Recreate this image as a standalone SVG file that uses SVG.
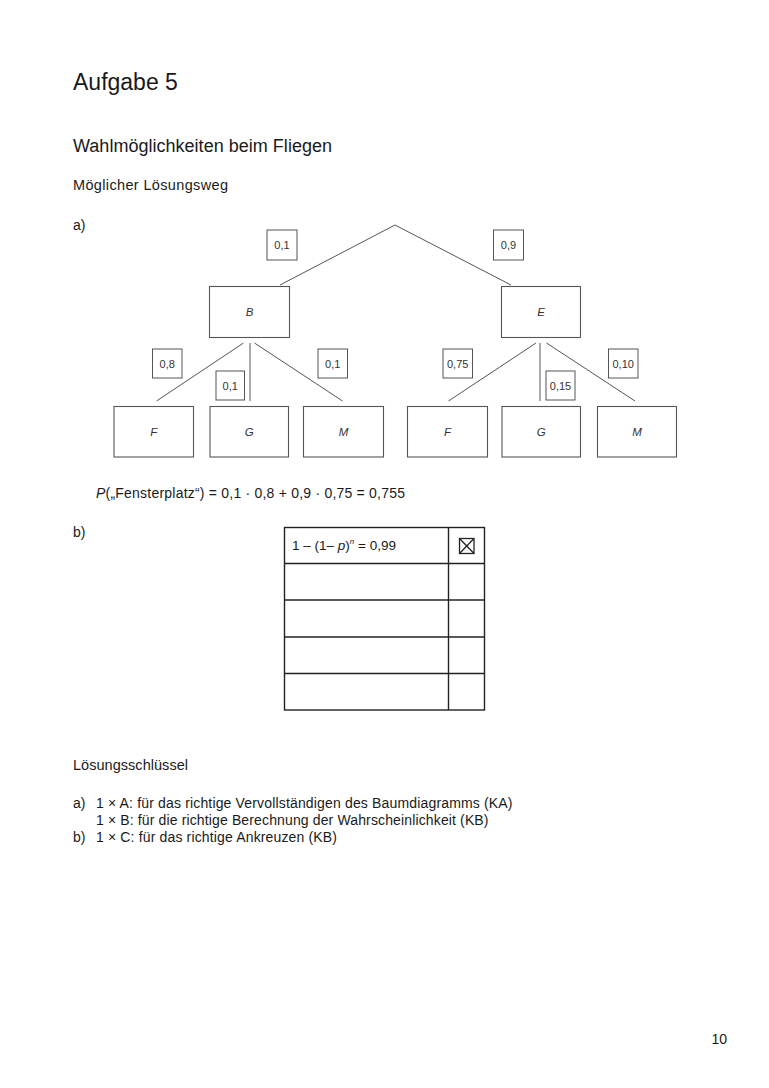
<svg xmlns="http://www.w3.org/2000/svg" width="769" height="1088" viewBox="0 0 769 1088">
<style>
text{font-family:"Liberation Sans",Arial,Helvetica,sans-serif;fill:#1a1a1a}
.t{font-size:14px}
.n{font-size:11.5px;font-style:italic;fill:#333;text-anchor:middle}
.p{font-size:11px;fill:#333;text-anchor:middle}
.box{fill:#fff;stroke:#555;stroke-width:1.1}
.pb{fill:#fff;stroke:#555;stroke-width:1}
.ln{stroke:#555;stroke-width:1;fill:none}
.tb{stroke:#222;stroke-width:1.4;fill:none}
</style>
<rect width="769" height="1088" fill="#fff"/>
<text x="73" y="90" font-size="23">Aufgabe 5</text>
<text x="73" y="152" font-size="18" textLength="259" lengthAdjust="spacing">Wahlmöglichkeiten beim Fliegen</text>
<text x="73" y="190" font-size="14.5" textLength="155" lengthAdjust="spacing">Möglicher Lösungsweg</text>
<text x="73" y="230" class="t">a)</text>

<g id="connectors">
<line class="ln" x1="395" y1="225" x2="280" y2="285"/>
<line class="ln" x1="395" y1="225" x2="511" y2="285"/>
<line class="ln" x1="243.5" y1="343" x2="156.5" y2="401"/>
<line class="ln" x1="250" y1="343" x2="250" y2="401"/>
<line class="ln" x1="254.5" y1="343" x2="342.5" y2="401"/>
<line class="ln" x1="536" y1="343" x2="448.5" y2="401"/>
<line class="ln" x1="540" y1="343" x2="540" y2="401"/>
<line class="ln" x1="546.5" y1="343" x2="635" y2="401"/>
</g>

<g id="prob-0-1"><rect class="pb" x="267" y="230" width="30" height="30"/><text class="p" x="282" y="249">0,1</text></g>
<g id="prob-0-9"><rect class="pb" x="493.5" y="230" width="30" height="30"/><text class="p" x="508.5" y="249">0,9</text></g>

<g id="node-B"><rect class="box" x="209.5" y="286.5" width="80" height="51"/><text class="n" x="249.5" y="316">B</text></g>
<g id="node-E"><rect class="box" x="501.5" y="286.5" width="79" height="51"/><text class="n" x="541" y="316">E</text></g>

<g id="prob-BF"><rect class="pb" x="152.5" y="349" width="29.5" height="29"/><text class="p" x="167.2" y="367.5">0,8</text></g>
<g id="prob-BG"><rect class="pb" x="216" y="371" width="28.5" height="29"/><text class="p" x="230.2" y="389.5">0,1</text></g>
<g id="prob-BM"><rect class="pb" x="318" y="349" width="29.5" height="29"/><text class="p" x="332.7" y="367.5">0,1</text></g>
<g id="prob-EF"><rect class="pb" x="443" y="349" width="29.5" height="29"/><text class="p" x="457.7" y="367.5">0,75</text></g>
<g id="prob-EG"><rect class="pb" x="546" y="371" width="29" height="29"/><text class="p" x="560.5" y="389.5">0,15</text></g>
<g id="prob-EM"><rect class="pb" x="608.5" y="349" width="29.5" height="29"/><text class="p" x="623.2" y="367.5">0,10</text></g>

<g id="node-BF"><rect class="box" x="114" y="406.5" width="79.5" height="50.5"/><text class="n" x="153.7" y="436">F</text></g>
<g id="node-BG"><rect class="box" x="210" y="406.5" width="78.5" height="50.5"/><text class="n" x="249.2" y="436">G</text></g>
<g id="node-BM"><rect class="box" x="303.5" y="406.5" width="80" height="50.5"/><text class="n" x="343.5" y="436">M</text></g>
<g id="node-EF"><rect class="box" x="407.5" y="406.5" width="80" height="50.5"/><text class="n" x="447.5" y="436">F</text></g>
<g id="node-EG"><rect class="box" x="502" y="406.5" width="78.5" height="50.5"/><text class="n" x="541.2" y="436">G</text></g>
<g id="node-EM"><rect class="box" x="597.5" y="406.5" width="79" height="50.5"/><text class="n" x="637" y="436">M</text></g>

<text x="96" y="498" class="t" textLength="309" lengthAdjust="spacing"><tspan font-style="italic">P</tspan>(„Fensterplatz“) = 0,1 · 0,8 + 0,9 · 0,75 = 0,755</text>

<text x="73" y="537" class="t">b)</text>

<g id="table">
<rect class="tb" x="284.5" y="527.5" width="200" height="182.5"/>
<line class="tb" x1="448.5" y1="527.5" x2="448.5" y2="710"/>
<line class="tb" x1="284.5" y1="563.5" x2="484.5" y2="563.5"/>
<line class="tb" x1="284.5" y1="600" x2="484.5" y2="600"/>
<line class="tb" x1="284.5" y1="637" x2="484.5" y2="637"/>
<line class="tb" x1="284.5" y1="673.5" x2="484.5" y2="673.5"/>
<text x="292" y="550" font-size="13.5" fill="#333">1 – (1– <tspan font-style="italic">p</tspan>)<tspan font-style="italic" font-size="8" dy="-6">n</tspan><tspan dy="6"> = 0,99</tspan></text>
<rect x="459.5" y="538.5" width="14.5" height="15" fill="none" stroke="#222" stroke-width="1.3"/>
<line x1="459.5" y1="538.5" x2="474" y2="553.5" stroke="#222" stroke-width="1.3"/>
<line x1="474" y1="538.5" x2="459.5" y2="553.5" stroke="#222" stroke-width="1.3"/>
</g>

<text x="73" y="770" font-size="14.5" textLength="115" lengthAdjust="spacing">Lösungsschlüssel</text>
<text x="73" y="808" class="t">a)</text>
<text x="96" y="808" class="t" textLength="416.5" lengthAdjust="spacing">1 × A: für das richtige Vervollständigen des Baumdiagramms (KA)</text>
<text x="96" y="825" class="t" textLength="392.5" lengthAdjust="spacing">1 × B: für die richtige Berechnung der Wahrscheinlichkeit (KB)</text>
<text x="73" y="842" class="t">b)</text>
<text x="96" y="842" class="t" textLength="241" lengthAdjust="spacing">1 × C: für das richtige Ankreuzen (KB)</text>

<text x="711.5" y="1044" class="t">10</text>
</svg>
